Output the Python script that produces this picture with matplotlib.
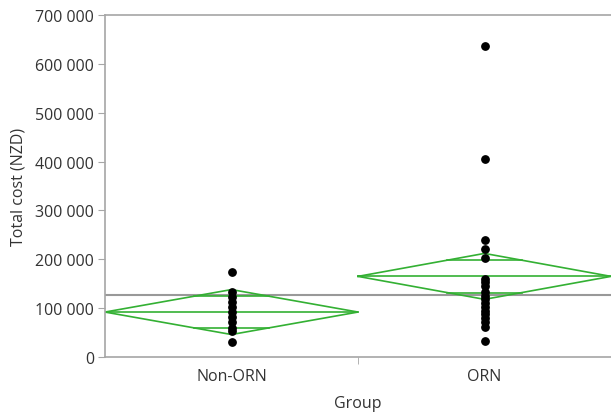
import numpy as np
import matplotlib.pyplot as plt

plt.rcParams['font.family'] = ['Open Sans', 'DejaVu Sans']

groups = ['Non-ORN', 'ORN']
non_orn = [175000, 133000, 123000, 112000, 102000, 92000, 82000, 72000, 59000, 53000, 31000]
orn = [636000, 406000, 240000, 222000, 202000, 160000, 153000, 145000, 133000, 125000,
       118000, 110000, 102000, 95000, 88000, 80000, 72000, 62000, 32000]
group_means = [92000, 165000]
ci_half = [46000, 47000]
grand_mean = 127000
yticks = [0, 100000, 200000, 300000, 400000, 500000, 600000, 700000]

green = '#33b033'
grey = '#a6a6a6'

fig = plt.figure(figsize=(6.11, 4.14), dpi=100)
ax = fig.add_axes([105 / 611, 1 - 358 / 414, 1 - 105 / 611, 342 / 414])

ax.axhline(grand_mean, color='#999999', lw=1.5, zorder=1)

for i, (m, h) in enumerate(zip(group_means, ci_half)):
    left, right = i - 0.5, i + 0.5
    ax.plot([left, i, right, i, left], [m, m + h, m, m - h, m], color=green, lw=1.2, zorder=2)
    ax.plot([left, right], [m, m], color=green, lw=1.2, zorder=2)
    # overlap marks
    d = h / np.sqrt(2)
    half = 0.5 * (1 - d / h)
    for s in (1, -1):
        ax.plot([i - half, i + half], [m + s * d, m + s * d], color=green, lw=1.2, zorder=2)

for i, vals in enumerate([non_orn, orn]):
    ax.scatter([i] * len(vals), vals, s=28, color='black', zorder=3)

ax.set_xlim(-0.5, 1.5)
ax.set_ylim(0, 700000)
ax.set_yticks(yticks)
ax.set_yticklabels([f'{v:,}'.replace(',', ' ') for v in yticks])
ax.set_xticks([0, 1])
ax.set_xticklabels(groups)
ax.set_xticks([0.5], minor=True)
ax.tick_params(axis='x', which='major', length=0, pad=8)
ax.tick_params(axis='x', which='minor', length=5, color=grey)
ax.tick_params(axis='y', length=5, color=grey, pad=3)
ax.tick_params(labelsize=11.5, labelcolor='#333333')

for side in ['left', 'bottom', 'top']:
    ax.spines[side].set_color(grey)
    ax.spines[side].set_linewidth(1.2)
ax.spines['right'].set_visible(False)

ax.set_xlabel('Group', fontsize=11.5, color='#333333', labelpad=8)
ax.set_ylabel('Total cost (NZD)', fontsize=11.5, color='#333333', labelpad=6)

fig.savefig('out.png', dpi=100)
